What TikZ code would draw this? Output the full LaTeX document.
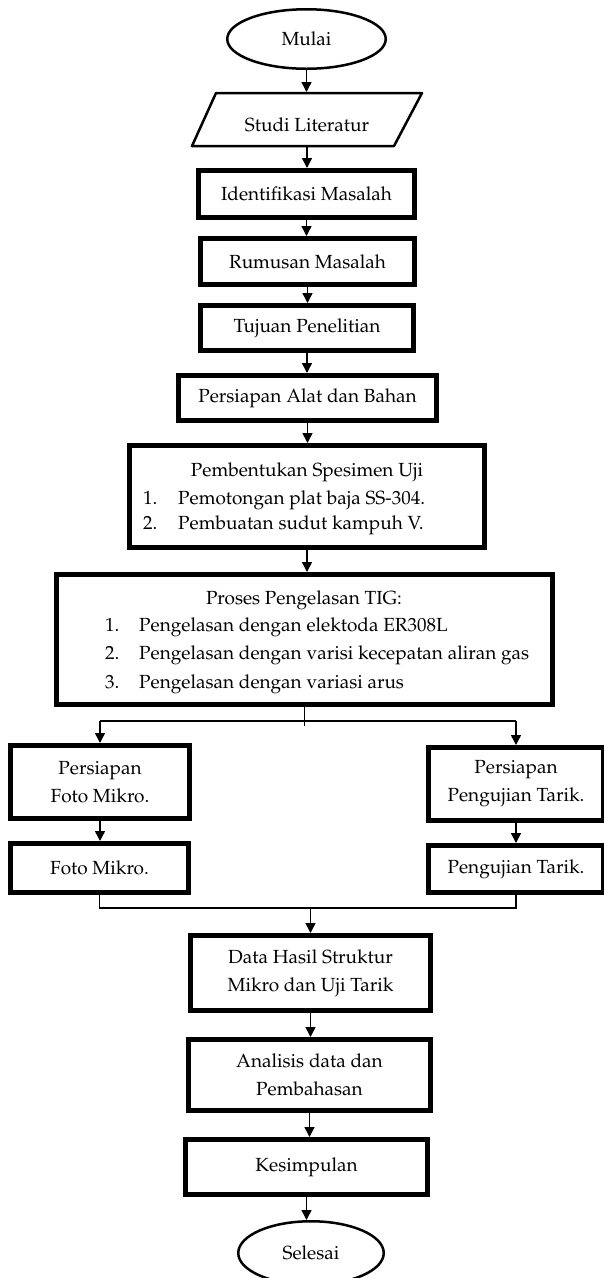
\documentclass[tikz,border=0pt]{standalone}
\usepackage[T1]{fontenc}
\usepackage{mathpazo}
\usetikzlibrary{shapes.geometric,arrows.meta}
\begin{document}
\begin{tikzpicture}[x=1pt,y=-1pt,
 every node/.style={font=\fontsize{19}{28}\selectfont},
 box/.style={draw, line width=5pt, rectangle, align=center, inner sep=0pt},
 term/.style={draw, ellipse, line width=2.5pt, inner sep=0pt},
 txt/.style={inner sep=0pt},
 arr/.style={line width=1.5pt, -{Triangle[length=10pt,width=10pt]}},
 ln/.style={line width=1.5pt}]
\useasboundingbox (0,0) rectangle (604,1278);
% terminals and input
\node[term, minimum width=158.5, minimum height=59.5] (mulai) at (306.5,39) {Mulai};
\node[minimum width=200, minimum height=55, inner sep=0pt, outer sep=0pt] (studi) at (307,119.5) {};
\draw[line width=2.5pt, line join=round] (216,93) -- (422,93) -- (394,146) -- (192,146) -- cycle;
\node[txt, anchor=base] (studiT) at (307,131) {Studi Literatur};
% chain
\node[box, minimum width=216, minimum height=47] (ident) at (306.5,194) {Identifikasi Masalah};
\node[box, minimum width=214, minimum height=46] (rumus) at (307.5,261.5) {Rumusan Masalah};
\node[box, minimum width=213, minimum height=45] (tujuan) at (307,328) {Tujuan Penelitian};
\node[box, minimum width=258, minimum height=45] (alat) at (307.5,398) {Persiapan Alat dan Bahan};
\node[box, minimum width=355, minimum height=102] (pemb) at (307,496.5) {};
\node[txt, anchor=base] (pembT) at (307,476) {Pembentukan Spesimen Uji};
\node[txt, anchor=base west] (pembN1) at (143,504) {1.};
\node[txt, anchor=base west] (pembI1) at (178,504) {Pemotongan plat baja SS-304.};
\node[txt, anchor=base west] (pembN2) at (143,529) {2.};
\node[txt, anchor=base west] (pembI2) at (178,529) {Pembuatan sudut kampuh V.};
\node[box, minimum width=496, minimum height=130] (proses) at (304.5,639.5) {};
\node[txt, anchor=base] (prosT) at (304,604) {Proses Pengelasan TIG:};
\node[txt, anchor=base west] (prosN1) at (105,631) {1.};
\node[txt, anchor=base west] (prosI1) at (139,631) {Pengelasan dengan elektoda ER308L};
\node[txt, anchor=base west] (prosN2) at (105,659) {2.};
\node[txt, anchor=base west] (prosI2) at (139,659) {Pengelasan dengan varisi kecepatan aliran gas};
\node[txt, anchor=base west] (prosN3) at (105,688) {3.};
\node[txt, anchor=base west] (prosI3) at (139,688) {Pengelasan dengan variasi arus};
% branches
\node[box, minimum width=179, minimum height=73] (L1) at (100,782) {Persiapan\\Foto Mikro.};
\node[box, minimum width=178, minimum height=49] (L2) at (99.5,868) {Foto Mikro.};
\node[box, minimum width=175, minimum height=73] (R1) at (516,784) {Persiapan\\Pengujian Tarik.};
\node[box, minimum width=175, minimum height=47] (R2) at (516,869) {Pengujian Tarik.};
% lower chain
\node[box, minimum width=240, minimum height=75] (data) at (310.5,973) {Data Hasil Struktur\\Mikro dan Uji Tarik};
\node[box, minimum width=242, minimum height=71] (anal) at (309.5,1075) {Analisis data dan\\Pembahasan};
\node[box, minimum width=242, minimum height=55] (kes) at (306.5,1167) {Kesimpulan};
\node[term, minimum width=145.5, minimum height=63.5] (selesai) at (311,1253) {Selesai};
% connectors
\draw[arr] (mulai.south) -- (mulai.south |- studi.north);
\draw[arr] (studi.south) -- (studi.south |- ident.north);
\draw[arr] (ident.south) -- (ident.south |- rumus.north);
\draw[arr] (rumus.south) -- (rumus.south |- tujuan.north);
\draw[arr] (tujuan.south) -- (tujuan.south |- alat.north);
\draw[arr] (alat.south) -- (alat.south |- pemb.north);
\draw[arr] (pemb.south) -- (pemb.south |- proses.north);
\coordinate (hl) at (0,721);
\coordinate (stub) at (0,726);
\draw[ln] (proses.south) -- (proses.south |- stub);
\draw[ln] (98,721 -| L1.north) -- (R1.north |- hl);
\draw[arr] (L1.north |- hl) -- (L1.north);
\draw[arr] (R1.north |- hl) -- (R1.north);
\draw[arr] (L1.south) -- (L1.south |- L2.north);
\draw[arr] (R1.south) -- (R1.south |- R2.north);
\coordinate (ml) at (0,908);
\draw[ln, line join=miter] (L2.south) -- (L2.south |- ml) -- (R2.south |- ml) -- (R2.south);
\draw[arr] (data.north |- ml) -- (data.north);
\draw[arr] (data.south) -- (data.south |- anal.north);
\draw[arr] (anal.south) -- (anal.south |- kes.north);
\draw[arr] (kes.south) -- (kes.south |- selesai.north);
\end{tikzpicture}
\end{document}
